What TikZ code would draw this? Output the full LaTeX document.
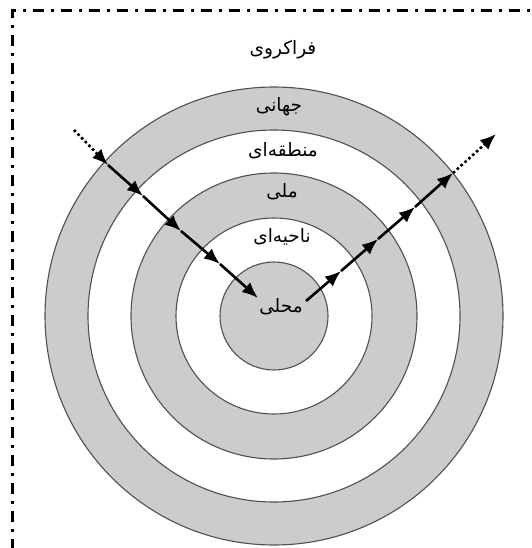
\documentclass[tikz,border=0pt]{standalone}
\usepackage{fontspec}
\TeXXeTstate=1
\newfontfamily\arabicfont[Script=Arabic]{DejaVu Sans}
\usetikzlibrary{arrows.meta}
\definecolor{ringgray}{HTML}{CCCCCC}
\definecolor{edgegray}{HTML}{505050}
\tikzset{
  ring/.style={draw=edgegray, line width=1.1pt},
  lbl/.style={font=\arabicfont\fontsize{18.5}{22}\selectfont, inner sep=0pt},
  flow/.style={line width=2.6pt, -{Latex[length=16pt,width=13pt]}},
  flowdot/.style={line width=2.6pt, dash pattern=on 2.6pt off 2.6pt, -{Latex[length=16pt,width=13pt]}},
  frame/.style={line width=3pt, dash pattern=on 3pt off 7pt on 11pt off 7pt}
}
\begin{document}
\begin{tikzpicture}[x=1pt,y=-1pt]
\useasboundingbox (0,0) rectangle (531,548);
% frame
\coordinate (fb) at (12,560);
\coordinate (fc) at (12,11);
\coordinate (fr) at (540,11);
\draw[frame] (fb) -- (fc) -- (fr);
% rings
\coordinate (c) at (274,316);
\fill[ringgray, ring] (c) circle[radius=229];
\fill[white, ring] (c) circle[radius=186];
\fill[ringgray, ring] (c) circle[radius=143];
\fill[white, ring] (c) circle[radius=98];
\fill[ringgray, ring] (c) circle[radius=54];
% labels
\node[lbl] (l0) at (283,50) {\beginR فراکروی\endR};
\node[lbl] (l1) at (279,107) {\beginR جهانی\endR};
\node[lbl] (l2) at (283,151) {\beginR منطقه‌ای\endR};
\node[lbl] (l3) at (282,192) {\beginR ملی\endR};
\node[lbl] (l4) at (282,237) {\beginR ناحیه‌ای\endR};
\node[lbl] (l5) at (281,307) {\beginR محلی\endR};
% incoming path
\coordinate (a0) at (74,130);
\coordinate (a1) at (108,165);
\coordinate (a2) at (143,196);
\coordinate (a3) at (181,231);
\coordinate (a4) at (220,264);
\coordinate (a5) at (258,298);
\draw[flowdot] (a0) -- (a1);
\draw[flow] (a1) -- (a2);
\draw[flow] (a2) -- (a3);
\draw[flow] (a3) -- (a4);
\draw[flow] (a4) -- (a5);
% outgoing path
\coordinate (b0) at (306,301);
\coordinate (b1) at (341,271);
\coordinate (b2) at (378,239);
\coordinate (b3) at (415,207);
\coordinate (b4) at (453,173);
\coordinate (b5) at (496,134);
\draw[flow] (b0) -- (b1);
\draw[flow] (b1) -- (b2);
\draw[flow] (b2) -- (b3);
\draw[flow] (b3) -- (b4);
\draw[flowdot] (b4) -- (b5);
\end{tikzpicture}
\end{document}
